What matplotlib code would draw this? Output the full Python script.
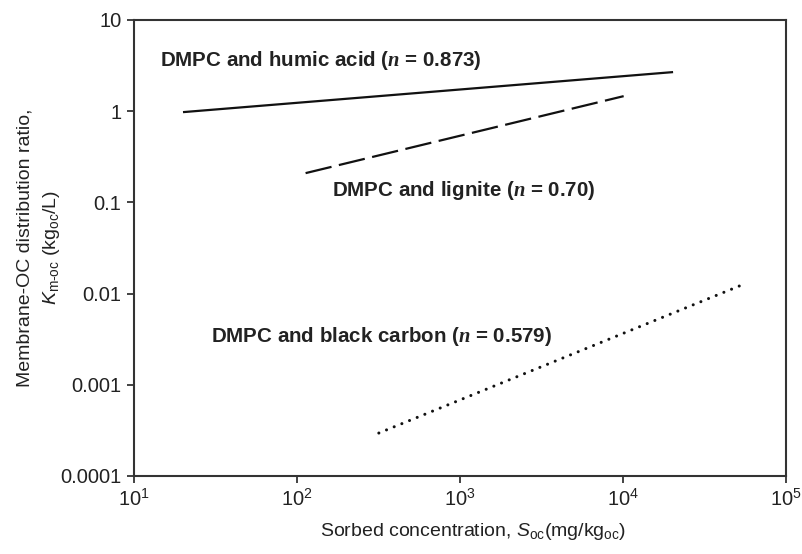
import matplotlib
matplotlib.use("Agg")
import matplotlib.pyplot as plt
from matplotlib.ticker import FixedLocator, FixedFormatter, NullLocator

plt.rcParams["font.family"] = ["Liberation Sans", "DejaVu Sans"]
plt.rcParams["mathtext.fontset"] = "custom"
plt.rcParams["mathtext.rm"] = "Liberation Sans"
plt.rcParams["mathtext.it"] = "Liberation Sans:italic"
plt.rcParams["mathtext.bf"] = "Liberation Sans:bold"
plt.rcParams["mathtext.sf"] = "Liberation Serif:bold:italic"

# line end points (S_oc, K_m-oc)
humic_x = [20, 2.03e4]
humic_y = [0.975, 2.68]
lignite_x = [113, 1.01e4]
lignite_y = [0.209, 1.46]
carbon_x = [318, 5.6e4]
carbon_y = [2.95e-4, 0.0128]

x_ticks = [1e1, 1e2, 1e3, 1e4, 1e5]
x_labels = ["$10^1$", "$10^2$", "$10^3$", "$10^4$", "$10^5$"]
y_ticks = [1e-4, 1e-3, 1e-2, 1e-1, 1, 10]
y_labels = ["0.0001", "0.001", "0.01", "0.1", "1", "10"]

fig = plt.figure(figsize=(8.02, 5.54), dpi=100)
ax = fig.add_axes([0.167, 0.141, 0.813, 0.823])

ax.plot(humic_x, humic_y, color="#111111", lw=1.6, solid_capstyle="butt")
ax.plot(lignite_x, lignite_y, color="#111111", lw=1.6,
        linestyle=(0, (12, 3.4)), dash_capstyle="butt")
ax.plot(carbon_x, carbon_y, color="#111111", lw=2.2,
        linestyle=(0, (0.01, 2.7)), dash_capstyle="round")

ax.set_xscale("log")
ax.set_yscale("log")
ax.set_xlim(10, 1e5)
ax.set_ylim(1e-4, 10)
ax.xaxis.set_major_locator(FixedLocator(x_ticks))
ax.xaxis.set_major_formatter(FixedFormatter(x_labels))
ax.xaxis.set_minor_locator(NullLocator())
ax.yaxis.set_major_locator(FixedLocator(y_ticks))
ax.yaxis.set_major_formatter(FixedFormatter(y_labels))
ax.yaxis.set_minor_locator(NullLocator())
ax.tick_params(direction="out", length=5, width=1.2, labelsize=14.5,
               color="#222222", labelcolor="#222222", pad=4)
for s in ax.spines.values():
    s.set_linewidth(1.5)
    s.set_color("#333333")

ax.set_xlabel(r"Sorbed concentration, $S_{\mathrm{oc}}$(mg/kg$_{\mathrm{oc}}$)",
              fontsize=14, color="#222222", labelpad=8)
ax.xaxis.label.set_x(0.52)
ax.set_ylabel("Membrane-OC distribution ratio,\n"
              r"$K_{\mathrm{m\text{-}oc}}$ (kg$_{\mathrm{oc}}$/L)",
              fontsize=14, color="#222222", labelpad=-1, linespacing=1.5)

bold = dict(fontsize=14.8, fontweight="bold", color="#222222", va="center",
            transform=fig.transFigure)
fig.text(160 / 802, 1 - 60 / 554, r"DMPC and humic acid ($\mathsf{n}$ = 0.873)", **bold)
fig.text(332 / 802, 1 - 190 / 554, r"DMPC and lignite ($\mathsf{n}$ = 0.70)", **bold)
fig.text(211 / 802, 1 - 337 / 554, r"DMPC and black carbon ($\mathsf{n}$ = 0.579)", **bold)

fig.savefig("out.png", dpi=100)
